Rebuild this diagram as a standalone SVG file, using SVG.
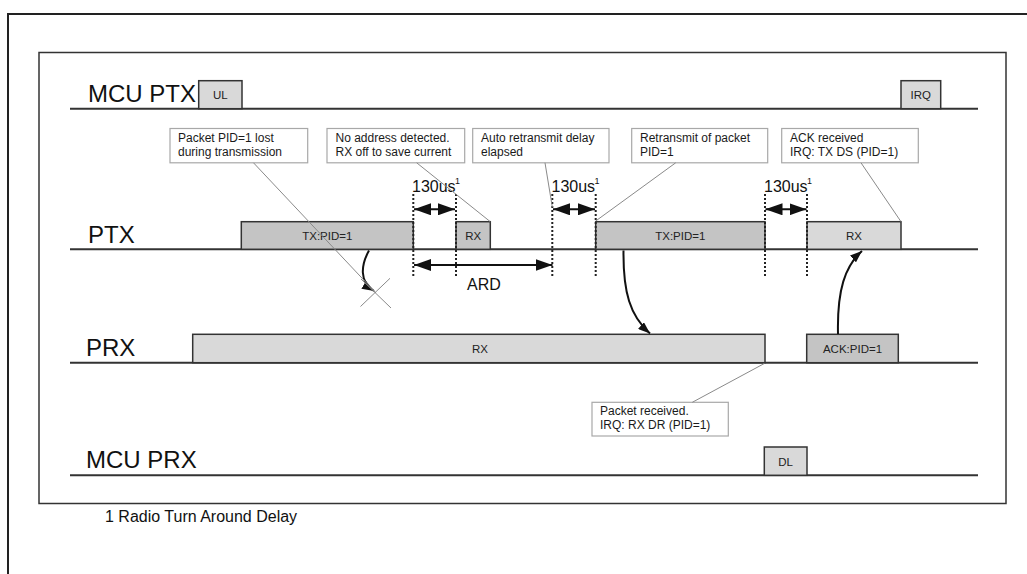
<svg xmlns="http://www.w3.org/2000/svg" width="1027" height="574" viewBox="0 0 1027 574">
<defs>
<style>
.lane{stroke:#333;stroke-width:2;fill:none}
.big{font-family:"Liberation Sans",Arial,sans-serif;font-size:24px;fill:#111}
.blk{stroke:#333;stroke-width:1.5}
.dark{fill:#c4c4c4}
.light{fill:#d9d9d9}
.bl{font-family:"Liberation Sans",Arial,sans-serif;font-size:11.5px;fill:#222;text-anchor:middle}
.co{fill:#fff;stroke:#a8a8a8;stroke-width:1.2}
.ct{font-family:"Liberation Sans",Arial,sans-serif;font-size:12px;fill:#1a1a1a}
.lead{stroke:#8a8a8a;stroke-width:1;fill:none}
.dot{stroke:#222;stroke-width:2;stroke-dasharray:2,2;fill:none}
.dim{font-family:"Liberation Sans",Arial,sans-serif;font-size:16px;fill:#111}
.sup{font-family:"Liberation Sans",Arial,sans-serif;font-size:9px;fill:#111}
.arr{stroke:#111;stroke-width:2;fill:none}
</style>
<marker id="ah" viewBox="0 0 10 10" preserveAspectRatio="none" refX="10" refY="5" markerWidth="17" markerHeight="12" markerUnits="userSpaceOnUse" orient="auto-start-reverse"><path d="M0,0 L10,5 L0,10 z" fill="#111"/></marker>
<marker id="ah2" viewBox="0 0 10 10" preserveAspectRatio="none" refX="10" refY="5" markerWidth="12" markerHeight="9" markerUnits="userSpaceOnUse" orient="auto"><path d="M0,0 L10,5 L0,10 z" fill="#111"/></marker>
</defs>
<rect width="1027" height="574" fill="#fff"/>
<path d="M8,574 L8,14 L1027,14" fill="none" stroke="#222" stroke-width="2"/>
<rect x="39" y="52.5" width="967" height="451" fill="none" stroke="#333" stroke-width="1.5"/>

<g id="lane-mcu-ptx">
<line class="lane" x1="70" y1="108.7" x2="978" y2="108.7"/>
<text class="big" x="88" y="102">MCU PTX</text>
<rect class="blk light" x="198.7" y="80.7" width="43.3" height="28"/>
<text class="bl" x="220.3" y="99">UL</text>
<rect class="blk light" x="901" y="80.7" width="39.7" height="28"/>
<text class="bl" x="920.8" y="99">IRQ</text>
</g>

<g id="lane-ptx">
<line class="lane" x1="70" y1="249.3" x2="978" y2="249.3"/>
<text class="big" x="88" y="243">PTX</text>
<rect class="blk dark" x="241.3" y="221.7" width="172" height="27.6"/>
<text class="bl" x="327.3" y="239.5">TX:PID=1</text>
<rect class="blk dark" x="456" y="221.7" width="34.3" height="27.6"/>
<text class="bl" x="473.2" y="239.5">RX</text>
<rect class="blk dark" x="595.7" y="221.7" width="169.3" height="27.6"/>
<text class="bl" x="680.3" y="239.5">TX:PID=1</text>
<rect class="blk light" x="807" y="221.7" width="94" height="27.6"/>
<text class="bl" x="854" y="239.5">RX</text>
</g>

<g id="lane-prx">
<line class="lane" x1="70" y1="362.7" x2="978" y2="362.7"/>
<text class="big" x="86" y="356">PRX</text>
<rect class="blk light" x="192.7" y="334.3" width="572.3" height="28.4"/>
<text class="bl" x="480" y="352.5">RX</text>
<rect class="blk dark" x="806.7" y="334.3" width="91.6" height="28.4"/>
<text class="bl" x="852.5" y="352.5">ACK:PID=1</text>
</g>

<g id="lane-mcu-prx">
<line class="lane" x1="70" y1="475.3" x2="978" y2="475.3"/>
<text class="big" x="86" y="468">MCU PRX</text>
<rect class="blk light" x="764.3" y="447" width="42.7" height="28.3"/>
<text class="bl" x="785.6" y="465.5">DL</text>
</g>

<g id="callout-lost">
<rect class="co" x="170" y="128.5" width="137.7" height="34.3"/>
<text class="ct" x="178" y="141.5">Packet PID=1 lost</text>
<text class="ct" x="178" y="156">during transmission</text>
</g>
<g id="callout-noaddr">
<rect class="co" x="327" y="128.5" width="137.7" height="34.3"/>
<text class="ct" x="335.5" y="141.5">No address detected.</text>
<text class="ct" x="335.5" y="156">RX off to save current</text>
</g>
<g id="callout-ard">
<rect class="co" x="472.7" y="128.5" width="136.3" height="34.3"/>
<text class="ct" x="481" y="141.5">Auto retransmit delay</text>
<text class="ct" x="481" y="156">elapsed</text>
</g>
<g id="callout-retx">
<rect class="co" x="631.7" y="128.5" width="136" height="34.3"/>
<text class="ct" x="640" y="141.5">Retransmit of packet</text>
<text class="ct" x="640" y="156">PID=1</text>
</g>
<g id="callout-ack">
<rect class="co" x="781.7" y="128.5" width="136.6" height="34.3"/>
<text class="ct" x="790" y="141.5">ACK received</text>
<text class="ct" x="790" y="156">IRQ: TX DS (PID=1)</text>
</g>
<g id="callout-rxdr">
<rect class="co" x="592" y="402.3" width="136.3" height="33.7"/>
<text class="ct" x="600" y="415">Packet received.</text>
<text class="ct" x="600" y="429.3">IRQ: RX DR (PID=1)</text>
</g>

<g id="timing">
<line class="dot" x1="413.3" y1="194" x2="413.3" y2="278"/>
<line class="dot" x1="456" y1="194" x2="456" y2="278"/>
<line class="dot" x1="552.3" y1="194" x2="552.3" y2="278"/>
<line class="dot" x1="595.7" y1="194" x2="595.7" y2="278"/>
<line class="dot" x1="765" y1="194" x2="765" y2="278"/>
<line class="dot" x1="807" y1="194" x2="807" y2="278"/>
<text class="dim" x="412" y="192">130us</text><text class="sup" x="455" y="184">1</text>
<text class="dim" x="551.5" y="192">130us</text><text class="sup" x="594.5" y="184">1</text>
<text class="dim" x="764" y="192">130us</text><text class="sup" x="807" y="184">1</text>
<text class="dim" x="467" y="290">ARD</text>
</g>

<g id="connectors">
<line class="arr" x1="414" y1="209.3" x2="455" y2="209.3" marker-start="url(#ah)" marker-end="url(#ah)"/>
<line class="arr" x1="553" y1="209.3" x2="595" y2="209.3" marker-start="url(#ah)" marker-end="url(#ah)"/>
<line class="arr" x1="765.5" y1="209.3" x2="806.5" y2="209.3" marker-start="url(#ah)" marker-end="url(#ah)"/>
<line class="arr" x1="414" y1="265" x2="552.5" y2="265" marker-start="url(#ah)" marker-end="url(#ah)"/>
<path class="arr" d="M369,250.5 C361,265 359,282 374,291" marker-end="url(#ah2)"/>
<path class="arr" d="M623.5,250.5 C623,292 630,316 650,333.5" marker-end="url(#ah2)"/>
<path class="arr" d="M838,334 C837,290 845,266 862,251" marker-end="url(#ah2)"/>
<line class="lead" x1="253.5" y1="162.8" x2="376" y2="293"/>
<line class="lead" x1="361" y1="279" x2="391" y2="308"/>
<line class="lead" x1="360.5" y1="306.5" x2="390" y2="278.3"/>
<line class="lead" x1="416.7" y1="162.8" x2="490.3" y2="221.7"/>
<line class="lead" x1="545" y1="162.8" x2="552.3" y2="207"/>
<line class="lead" x1="675.7" y1="162.8" x2="595.7" y2="221"/>
<line class="lead" x1="861" y1="162.8" x2="901" y2="221.7"/>
<line class="lead" x1="692.3" y1="402.3" x2="764.3" y2="363.5"/>
</g>

<text class="dim" x="105" y="521.5">1 Radio Turn Around Delay</text>
</svg>
